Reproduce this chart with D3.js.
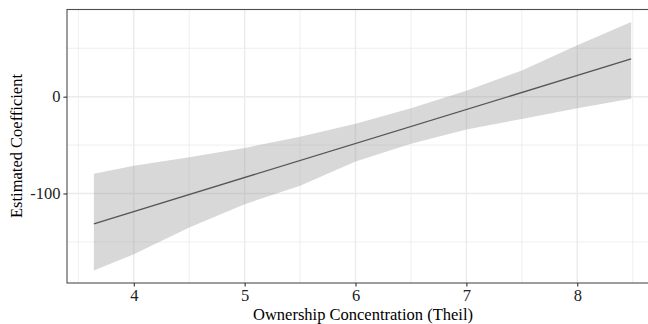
<!DOCTYPE html>
<html>
<head>
<meta charset="utf-8">
<script src="https://cdn.jsdelivr.net/npm/d3@7"></script>
<style>
  html, body { margin: 0; padding: 0; background: #fff; }
  svg { display: block; }
  text { font-family: "Liberation Serif", "Times New Roman", serif; }
</style>
</head>
<body>
<svg id="chart" width="648" height="324"></svg>
<script>
// ---- data ----
const bandX     = [3.64, 4.0, 4.5, 5.0, 5.5, 6.0, 6.5, 7.0, 7.5, 8.0, 8.486];
const bandUpper = [-79.6, -71.4, -62.5, -53.0, -41.5, -28.0, -12.0, 6.0, 27.0, 53.0, 77.2];
const bandLower = [-179.6, -162.7, -135.0, -111.0, -92.0, -67.0, -48.5, -34.0, -23.0, -12.0, -2.1];
const lineX     = [3.64, 8.486];
const lineY     = [-131.3, 39.0];
const xTicks    = [4, 5, 6, 7, 8];
const xMinor    = [3.5, 4.5, 5.5, 6.5, 7.5, 8.5];
const yTicks    = [-100, 0];
const yMinor    = [-150, -50, 50];
const xLabel    = "Ownership Concentration (Theil)";
const yLabel    = "Estimated Coefficient";

(function () {
// ---- layout ----
const svg = d3.select("#chart");
const pLeft = 67, pTop = 9.5, pBottom = 283, pRight = 658;

const xDom = [3.64 - 0.05 * (8.486 - 3.64), 8.486 + 0.05 * (8.486 - 3.64)];
const yMinD = d3.min(bandLower), yMaxD = d3.max(bandUpper);
const yPad = 0.05 * (yMaxD - yMinD);
const x = d3.scaleLinear().domain(xDom).range([pLeft, pRight]);
const y = d3.scaleLinear().domain([yMinD - yPad, yMaxD + yPad]).range([pBottom, pTop]);

const g = svg.append("g");
g.append("rect").attr("x", pLeft).attr("y", pTop).attr("width", pRight - pLeft).attr("height", pBottom - pTop).attr("fill", "#fff");

// grid
g.selectAll(".xminor").data(xMinor).join("line")
  .attr("x1", d => x(d)).attr("x2", d => x(d)).attr("y1", pTop).attr("y2", pBottom)
  .attr("stroke", "#ebebeb").attr("stroke-width", 0.8);
g.selectAll(".yminor").data(yMinor).join("line")
  .attr("y1", d => y(d)).attr("y2", d => y(d)).attr("x1", pLeft).attr("x2", pRight)
  .attr("stroke", "#ebebeb").attr("stroke-width", 0.8);
g.selectAll(".xmajor").data(xTicks).join("line")
  .attr("x1", d => x(d)).attr("x2", d => x(d)).attr("y1", pTop).attr("y2", pBottom)
  .attr("stroke", "#ebebeb").attr("stroke-width", 1.4);
g.selectAll(".ymajor").data(yTicks).join("line")
  .attr("y1", d => y(d)).attr("y2", d => y(d)).attr("x1", pLeft).attr("x2", pRight)
  .attr("stroke", "#ebebeb").attr("stroke-width", 1.4);

// ribbon
const band = bandX.map((v, i) => ({x: v, lo: bandLower[i], hi: bandUpper[i]}));
g.append("path").datum(band)
  .attr("d", d3.area().x(d => x(d.x)).y0(d => y(d.lo)).y1(d => y(d.hi)))
  .attr("fill", "#999999").attr("fill-opacity", 0.38);

// line
const lineData = lineX.map((v, i) => ({x: v, y: lineY[i]}));
g.append("path").datum(lineData)
  .attr("d", d3.line().x(d => x(d.x)).y(d => y(d.y)))
  .attr("fill", "none").attr("stroke", "#555555").attr("stroke-width", 1.3);

// panel border
g.append("rect").attr("x", pLeft).attr("y", pTop).attr("width", pRight - pLeft).attr("height", pBottom - pTop)
  .attr("fill", "none").attr("stroke", "#4d4d4d").attr("stroke-width", 1.1);

// axes
const xAxis = d3.axisBottom(x).tickValues(xTicks).tickSize(3.6).tickPadding(3).tickFormat(d3.format("d"));
const gx = svg.append("g").attr("transform", `translate(0,${pBottom})`).call(xAxis);
gx.select(".domain").remove();
gx.selectAll(".tick line").attr("stroke", "#333").attr("stroke-width", 1.1);
gx.selectAll(".tick text").attr("fill", "#222").style("font-size", "16.5px").style("font-family", "Liberation Serif");

const yAxis = d3.axisLeft(y).tickValues(yTicks).tickSize(3.6).tickPadding(3).tickFormat(d => d < 0 ? "-" + Math.abs(d) : String(d));
const gy = svg.append("g").attr("transform", `translate(${pLeft},0)`).call(yAxis);
gy.select(".domain").remove();
gy.selectAll(".tick line").attr("stroke", "#333").attr("stroke-width", 1.1);
gy.selectAll(".tick text").attr("fill", "#222").style("font-size", "16.5px").style("font-family", "Liberation Serif");

// titles
svg.append("text").attr("x", 363).attr("y", 320)
  .attr("text-anchor", "middle").style("font-size", "16.5px").attr("fill", "#000").text(xLabel);
svg.append("text").attr("transform", `translate(22,146) rotate(-90)`)
  .attr("text-anchor", "middle").style("font-size", "16.5px").attr("fill", "#000").text(yLabel);
})();
</script>
</body>
</html>
